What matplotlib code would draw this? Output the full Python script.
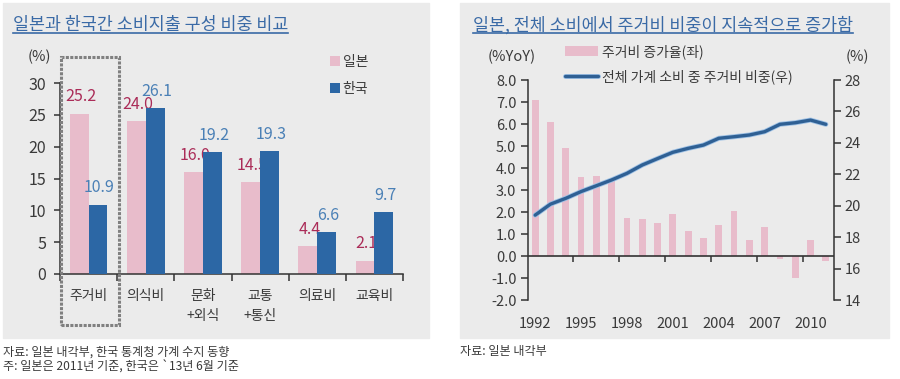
import matplotlib.pyplot as plt
import matplotlib.patheffects as pe
import matplotlib.transforms as mtransforms
from matplotlib.patches import Rectangle
from matplotlib.lines import Line2D
import numpy as np

plt.rcParams['font.family'] = ['Noto Sans CJK KR', 'DejaVu Sans']

# left chart: spending composition (%)
categories = ['주거비', '의식비', '문화\n+외식', '교통\n+통신', '의료비', '교육비']
japan = [25.2, 24.0, 16.0, 14.5, 4.4, 2.1]
korea = [10.9, 26.1, 19.2, 19.3, 6.6, 9.7]

# right chart: Japan housing spending
years = list(range(1992, 2012))
housing_growth = [7.1, 6.1, 4.9, 3.6, 3.65, 3.45, 1.75, 1.7, 1.5, 1.9,
                  1.13, 0.82, 1.4, 2.05, 0.71, 1.33, -0.12, -0.98, 0.75, -0.23]
housing_share = [19.4, 20.1, 20.47, 20.9, 21.27, 21.64, 22.06, 22.59, 23.0, 23.4,
                 23.65, 23.86, 24.29, 24.39, 24.5, 24.71, 25.18, 25.28, 25.45, 25.18]
year_labels = [1992, 1995, 1998, 2001, 2004, 2007, 2010]

pink = '#e8bccb'
blue = '#2c67a5'
jp_text = '#ab2c58'
kr_text = '#4a80b6'
title_col = '#3a6aa6'
txt = '#3a3a3a'
axis_col = '#333333'
W, H = 900, 379

fig = plt.figure(figsize=(9, 3.79), dpi=100)

# grey panels
for x0, x1 in [(3, 429), (460, 889)]:
    fig.add_artist(Rectangle((x0 / W, 1 - 338 / H), (x1 - x0) / W, 335 / H,
                             transform=fig.transFigure, color='#ebebeb', zorder=-5))

# ---------- left chart ----------
ax = fig.add_axes([60 / W, 1 - 274 / H, 343 / W, 191 / H])
ax.patch.set_visible(False)
x = np.arange(len(categories))
w = 0.33
b1 = ax.bar(x - w / 2, japan, w, color=pink, zorder=1, label='일본')
b2 = ax.bar(x + w / 2, korea, w, color=blue, zorder=3, label='한국')
for xi, v in zip(x, japan):
    ax.annotate(f'{v:.1f}', (xi - w / 2, v), xytext=(1, 12), textcoords='offset points',
                ha='center', va='center', color=jp_text, fontsize=11.5, zorder=2)
for xi, v in zip(x, korea):
    ax.annotate(f'{v:.1f}', (xi + w / 2, v), xytext=(1, 12), textcoords='offset points',
                ha='center', va='center', color=kr_text, fontsize=11.5, zorder=4)

ax.set_xlim(-0.5, len(categories) - 0.5)
ax.set_ylim(0, 30)
ax.set_yticks(range(0, 31, 5))
ax.set_xticks(np.arange(-0.5, len(categories), 1))
ax.set_xticklabels([])
ax.set_xticks(x, minor=True)
ax.set_xticklabels(categories, minor=True, fontsize=10, linespacing=1.5, color=txt)
ax.tick_params(axis='x', which='major', length=5, width=1.1, color=axis_col)
ax.tick_params(axis='x', which='minor', length=0, pad=11)
ax.tick_params(axis='y', length=4, width=1.1, color=axis_col, labelsize=11.5,
               labelcolor=txt, pad=6)
for s in ['top', 'right']:
    ax.spines[s].set_visible(False)
for s in ['left', 'bottom']:
    ax.spines[s].set_color(axis_col)
    ax.spines[s].set_linewidth(1.1)

# dotted highlight around the first category
trans = mtransforms.blended_transform_factory(ax.transData, ax.transAxes)
ax.add_patch(Rectangle((-0.49, -0.267), 1.02, 1.403, transform=trans, fill=False,
                       ec='#808080', lw=2.2, ls=(0, (1, 0.45)), clip_on=False, zorder=6))

ax.legend(handles=[b1, b2], loc='upper left', bbox_to_anchor=(330 / W, 1 - 55 / H),
          bbox_transform=fig.transFigure, frameon=False, fontsize=10,
          handlelength=0.7, handleheight=0.7, handletextpad=0.2,
          labelspacing=0.9, borderpad=0, borderaxespad=0, labelcolor=txt)
fig.text(39 / W, 1 - 57 / H, '(%)', ha='center', va='center', fontsize=10.5, color=txt)

# ---------- right chart ----------
ax2 = fig.add_axes([527.5 / W, 1 - 300 / H, 306 / W, 220 / H])
ax2.patch.set_visible(False)
bars = ax2.bar(years, housing_growth, 0.45, color=pink, zorder=2, label='주거비 증가율(좌)')
ax2.axhline(0, color=axis_col, lw=1.2, zorder=3)
ax2.set_xlim(years[0] - 0.5, years[-1] + 0.5)
ax2.set_ylim(-2, 8)
ax2.set_yticks(range(-2, 9))
ax2.yaxis.set_major_formatter(plt.FormatStrFormatter('%.1f'))
ax2.set_xticks(year_labels)
ax2.tick_params(axis='x', length=0, pad=12, labelsize=10.5, labelcolor=txt)
ax2.tick_params(axis='y', length=5, width=1.1, color=axis_col, labelsize=10.5,
                labelcolor=txt, pad=3)
bounds = [y + 2.5 for y in year_labels[:-1]]
ax2.plot(bounds, [0] * len(bounds), ls='none', marker=3, ms=4, mew=1.1,
         color=axis_col, zorder=3)
for s in ['top', 'bottom', 'right']:
    ax2.spines[s].set_visible(False)
ax2.spines['left'].set_color(axis_col)
ax2.spines['left'].set_linewidth(1.1)

ax3 = ax2.twinx()
line, = ax3.plot(years, housing_share, color='#2f6094', lw=2.4, solid_capstyle='round',
                 path_effects=[pe.Stroke(linewidth=3.6, foreground='#9fc2e6'), pe.Normal()],
                 label='전체 가계 소비 중 주거비 비중(우)')
ax3.set_ylim(14, 28)
ax3.set_yticks(range(14, 29, 2))
ax3.tick_params(axis='y', length=5, width=1.1, color=axis_col, labelsize=10.5,
                labelcolor=txt, pad=3)
for s in ['top', 'bottom', 'left']:
    ax3.spines[s].set_visible(False)
ax3.spines['right'].set_color(axis_col)
ax3.spines['right'].set_linewidth(1.1)

ax3.legend(handles=[bars, line], loc='upper left', bbox_to_anchor=(565 / W, 1 - 44 / H),
           bbox_transform=fig.transFigure, frameon=False, fontsize=10,
           handlelength=2.4, handleheight=0.65, handletextpad=0.25,
           labelspacing=0.75, borderpad=0, borderaxespad=0, labelcolor=txt)
fig.text(512 / W, 1 - 57 / H, '(%YoY)', ha='center', va='center', fontsize=10.5, color=txt)
fig.text(857 / W, 1 - 57 / H, '(%)', ha='center', va='center', fontsize=10.5, color=txt)

# ---------- titles & notes ----------
t1 = fig.text(13 / W, 1 - 25 / H, '일본과 한국간 소비지출 구성 비중 비교',
              ha='left', va='center', fontsize=12.5, color=title_col)
t2 = fig.text(473 / W, 1 - 25 / H, '일본, 전체 소비에서 주거비 비중이 지속적으로 증가함',
              ha='left', va='center', fontsize=12.5, color=title_col)
fig.text(3 / W, 1 - 352 / H, '자료: 일본 내각부, 한국 통계청 가계 수지 동향',
         ha='left', va='center', fontsize=8.7, color=txt)
fig.text(3 / W, 1 - 367 / H, '주: 일본은 2011년 기준, 한국은 `13년 6월 기준',
         ha='left', va='center', fontsize=8.7, color=txt)
fig.text(460 / W, 1 - 352 / H, '자료: 일본 내각부',
         ha='left', va='center', fontsize=8.7, color=txt)

fig.canvas.draw()
inv = fig.transFigure.inverted()
for t in [t1, t2]:
    bb = t.get_window_extent()
    (fx0, fy), (fx1, _) = inv.transform([(bb.x0, bb.y0 + 1), (bb.x1, bb.y0 + 1)])
    fig.add_artist(Line2D([fx0, fx1], [fy, fy], transform=fig.transFigure,
                          color=title_col, lw=1.2))

fig.savefig('out.png', dpi=100)
